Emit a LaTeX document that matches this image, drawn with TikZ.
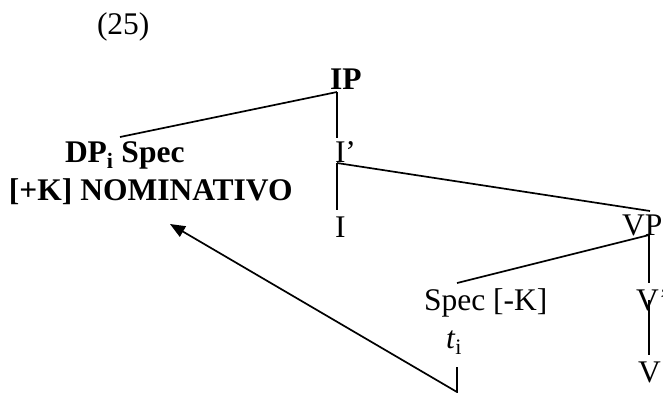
\documentclass[tikz,border=0pt]{standalone}
\usepackage{fontspec}
\setmainfont{Liberation Serif}
\usetikzlibrary{arrows.meta}
\begin{document}
\begin{tikzpicture}[x=1pt,y=-1pt,
  lbl/.style={anchor=base west,inner sep=0pt,outer sep=0pt,font=\fontsize{31.5}{36}\selectfont},
  blbl/.style={lbl,font=\fontsize{31.5}{36}\selectfont\bfseries},
  branch/.style={line width=1.7pt},
  move/.style={line width=1.7pt,-{Triangle[length=15pt,width=12pt]}}]
\useasboundingbox (0,0) rectangle (663,392);
% labels
\node[lbl]  (num)  at (97,34.5)  {(25)};
\node[blbl] (ip)   at (330,89)   {IP};
\node[blbl] (dp)   at (65,162)   {DP\textsubscript{i} Spec};
\node[blbl] (nom)  at (9,200)    {[+K] NOMINATIVO};
\node[lbl]  (ibar) at (335,162)  {I’};
\node[lbl]  (i)    at (335,237)  {I};
\node[lbl]  (vp)   at (622,235)  {VP};
\node[lbl]  (spec) at (424,310)  {Spec [-K]};
\node[lbl]  (t)    at (446,348)  {\textit{t}\textsubscript{i}};
\node[lbl]  (vbar) at (636,310)  {V’};
\node[lbl]  (v)    at (638,382)  {V};
% junction points
\coordinate (ipB)   at (337,92);
\coordinate (dpT)   at (120,137);
\coordinate (ibarT) at (337,138);
\coordinate (ibarB) at (337,163);
\coordinate (iT)    at (337,210);
\coordinate (vpT)   at (650,211);
\coordinate (vpB)   at (649,235);
\coordinate (specT) at (457,283);
\coordinate (vbarT) at (649,283);
\coordinate (vbarB) at (649,300);
\coordinate (vT)    at (649,355);
\coordinate (tB)    at (457,367);
\coordinate (turn)  at (457,392);
\coordinate (tip)   at (170,224);
% branches
\draw[branch] (ipB) -- (dpT);
\draw[branch] (ipB) -- (ibarT);
\draw[branch] (ibarB) -- (iT);
\draw[branch] (ibarB) -- (vpT);
\draw[branch] (vpB) -- (specT);
\draw[branch] (vpB) -- (vbarT);
\draw[branch] (vbarB) -- (vT);
% movement arrow
\draw[move] (tB) -- (turn) -- (tip);
\end{tikzpicture}
\end{document}
